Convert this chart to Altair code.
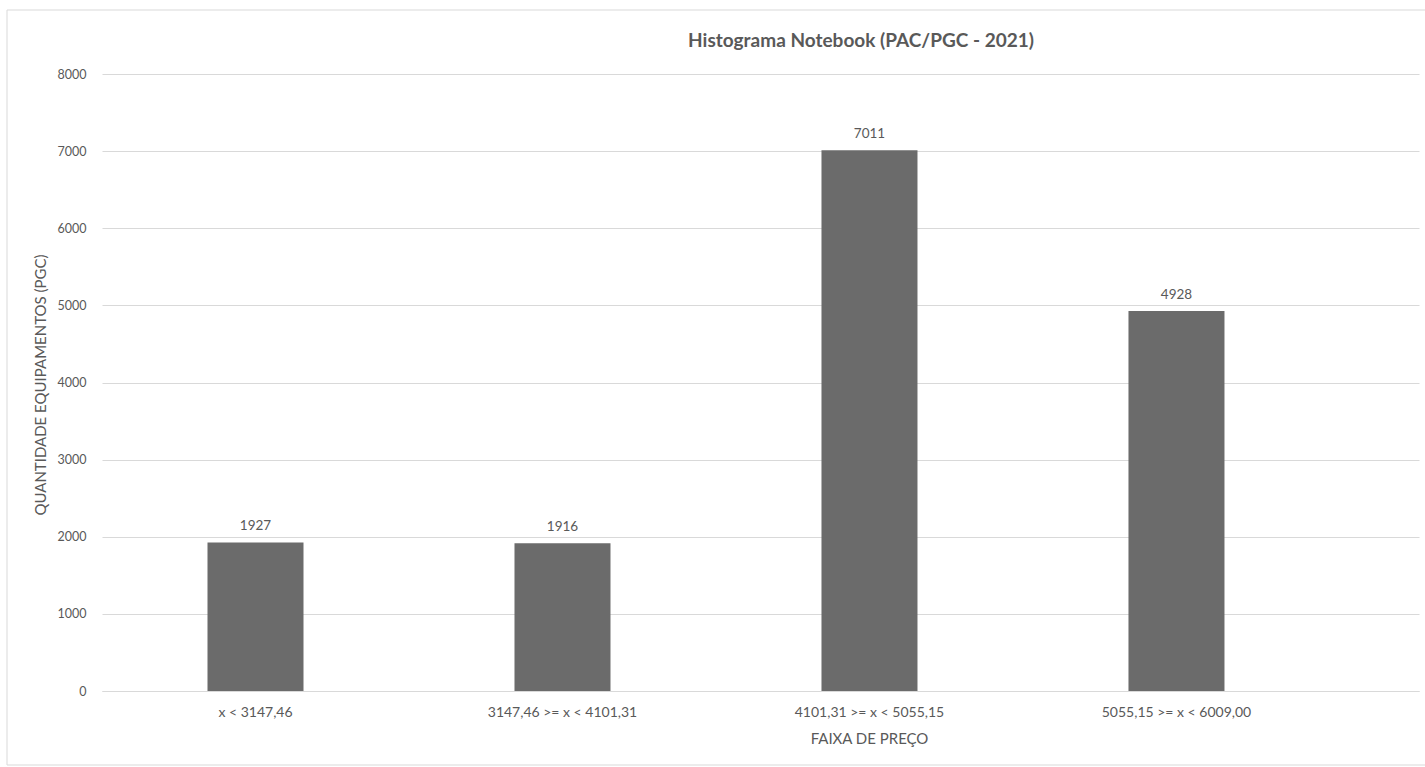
import altair as alt
import pandas as pd

# Price ranges (R$) and how many notebooks fall in each
faixas = [
    "x < 3147,46",
    "3147,46 >= x < 4101,31",
    "4101,31 >= x < 5055,15",
    "5055,15 >= x < 6009,00",
]
quantidades = [1927, 1916, 7011, 4928]
y_ticks = [0, 1000, 2000, 3000, 4000, 5000, 6000, 7000, 8000]
titulo = "Histograma  Notebook (PAC/PGC - 2021)"

df = pd.DataFrame({"faixa": faixas, "qtd": quantidades})

FONT = "Lato"
TXT = "#595959"
GRID = "#d9d9d9"
W, H = 1317, 617

x_enc = alt.X(
    "faixa:N",
    sort=faixas,
    scale=alt.Scale(domain=faixas, paddingInner=0, paddingOuter=0.145, align=0),
    axis=alt.Axis(
        title="FAIXA DE PREÇO",
        titleX=767,
        titleY=47,
        titleBaseline="middle",
        titleAlign="center",
        labelAngle=0,
        labelPadding=14,
        labelBaseline="top",
        labelFontSize=14,
        ticks=False,
        domainColor=GRID,
        domainWidth=1,
    ),
)
y_enc = alt.Y(
    "qtd:Q",
    scale=alt.Scale(domain=[0, 8000], nice=False),
    axis=alt.Axis(
        title="QUANTIDADE EQUIPAMENTOS (PGC)",
        values=y_ticks,
        format="d",
        titleX=-62,
        titleY=H / 2 + 2,
        titleAngle=270,
        titleAlign="center",
        titleBaseline="middle",
        labelPadding=16,
        labelFontSize=12.5,
        ticks=False,
        domain=False,
        gridColor=GRID,
        gridWidth=1,
    ),
)

base = alt.Chart(df)

bars = base.mark_bar(size=96, color="#6b6b6b").encode(x=x_enc, y=y_enc)

labels = base.mark_text(
    baseline="alphabetic", dy=-12, font=FONT, fontSize=13.5, color=TXT
).encode(x=alt.X("faixa:N", sort=faixas), y="qtd:Q", text="qtd:Q")

# outer chart border (open on the right, running past the edge)
frame = alt.Chart(alt.Data(values=[{}])).mark_rect(
    fillOpacity=0, stroke=GRID, strokeWidth=1
).encode(
    x=alt.value(-95), x2=alt.value(1400), y=alt.value(-64), y2=alt.value(691)
)

title = alt.Chart(alt.Data(values=[{"t": titulo}])).mark_text(
    font=FONT, fontSize=19, fontWeight="bold", color=TXT,
    align="center", baseline="alphabetic",
).encode(x=alt.value(759), y=alt.value(-27), text="t:N")

chart = (
    alt.layer(frame, bars, labels, title)
    .properties(
        width=W,
        height=H,
        autosize=alt.AutoSizeParams(type="none"),
        padding={"left": 102, "top": 74, "right": 6, "bottom": 76},
        background="white",
    )
    .configure_view(stroke=None)
    .configure_axis(
        labelFont=FONT,
        labelFontSize=12,
        labelColor=TXT,
        titleFont=FONT,
        titleFontSize=15,
        titleFontWeight="normal",
        titleColor=TXT,
    )
)

chart.save("out.html", embed_options={"renderer": "svg", "actions": False})
